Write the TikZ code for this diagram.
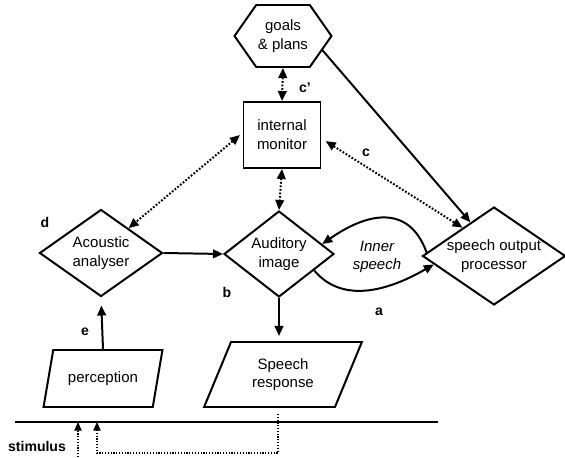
\documentclass[tikz,border=0pt]{standalone}
\usepackage{fontspec}
\setmainfont{Liberation Sans}
\usetikzlibrary{arrows.meta,shapes.geometric,shapes.symbols}

\begin{document}
\begin{tikzpicture}[
  x=0.3mm,
  y=0.3mm,
  font=\fontsize{12.8}{16}\selectfont,
  box/.style={
    draw,
    line width=1.7pt,
    align=center,
    inner sep=0pt,
    minimum width=23.1mm,
    minimum height=19.8mm
  },
  gate/.style={
    draw,
    diamond,
    aspect=1.45,
    line width=1.7pt,
    align=center,
    inner sep=0pt
  },
  plan/.style={
    draw,
    signal,
    signal to=west and east,
    signal pointer angle=110,
    line width=1.7pt,
    align=center,
    inner sep=0pt,
    minimum width=29.1mm,
    minimum height=18.6mm
  },
  slab/.style={
    draw,
    trapezium,
    trapezium left angle=64,
    trapezium right angle=116,
    trapezium stretches=true,
    line width=1.7pt,
    align=center,
    inner sep=0pt
  },
  tag/.style={font=\fontsize{12}{14}\selectfont\bfseries},
  line/.style={-{Triangle[length=3mm,width=2.6mm]}, line width=1.7pt},
  link/.style={{Triangle[length=3mm,width=2.6mm]}-{Triangle[length=3mm,width=2.6mm]},
    line width=1.7pt, dash pattern=on 1.5pt off 1.5pt},
  feed/.style={-{Triangle[length=2.6mm,width=2.2mm]}, line width=1pt,
    dash pattern=on 1pt off 1.4pt}
]
\useasboundingbox (0,0) rectangle (565,457);

% --- Control level ---
\node[plan] (goals) at (283,421) {goals\\\& plans};
\node[box] (monitor) at (282,322) {internal\\monitor};

% --- Processing level ---
\node[gate,minimum width=36.9mm,minimum height=26.1mm] (acoustic) at (101,204)
{Acoustic\\analyser};
\node[gate,minimum width=33mm,minimum height=25.8mm] (auditory) at (279,203)
{Auditory\\image};
\node[gate,minimum width=42.9mm,minimum height=29.4mm] (sop) at (494,201)
{speech output\\processor};
\node[font=\fontsize{12.8}{16}\selectfont\itshape,align=center] (inner) at (377,200)
{Inner\\speech};

% --- Input / output ---
\node[slab,minimum width=35.7mm,minimum height=17.1mm] (perception) at (103,78.5)
{perception};
\node[slab,minimum width=47.4mm,minimum height=19.5mm] (response) at (283,82.5)
{Speech\\response};

% Ground line and stimulus paths
\coordinate (ground_l) at (15,35);
\coordinate (ground_r) at (438,35);
\coordinate (stim_a) at (78,0);
\coordinate (stim_a_end) at (78,35);
\coordinate (fb_top) at (278,43);
\coordinate (fb_bot) at (278,4);
\coordinate (fb_turn) at (97,4);
\coordinate (fb_end) at (97,35);

% Arrows
\draw[line width=1.7pt] (ground_l) -- (ground_r);
\draw[line] (acoustic.east) -- (auditory.west);
\draw[line,shorten >=2.4mm] (perception.north) -- (acoustic.south);
\draw[line,shorten >=1.5mm] (auditory.south) -- (auditory.south |- response.north);
\draw[line] (goals.-20) -- (sop.125);
\draw[link] (goals.south) -- (monitor.north);
\draw[link] (monitor.south) -- (auditory.north);
\draw[link,shorten <=1mm] (monitor.177) -- (acoustic.42);
\draw[link,shorten <=1.5mm] (monitor.-5) -- (sop.138);
\draw[line] (sop.177) to[out=110,in=35,looseness=1.3] (auditory.13);
\draw[line] (auditory.-25) to[out=-50,in=-150] (sop.188);
\draw[feed] (stim_a) -- (stim_a_end);
\draw[feed] (fb_top) -- (fb_bot) -- (fb_turn) -- (fb_end);

% Labels
\node[tag] (lbl_c2) at (305,369) {c'};
\node[tag] (lbl_c) at (366,304) {c};
\node[tag] (lbl_d) at (45,235) {d};
\node[tag] (lbl_b) at (227,165) {b};
\node[tag] (lbl_a) at (379,145) {a};
\node[tag] (lbl_e) at (85,125) {e};
\node[tag] (lbl_stim) at (37,11) {stimulus};

\end{tikzpicture}
\end{document}
